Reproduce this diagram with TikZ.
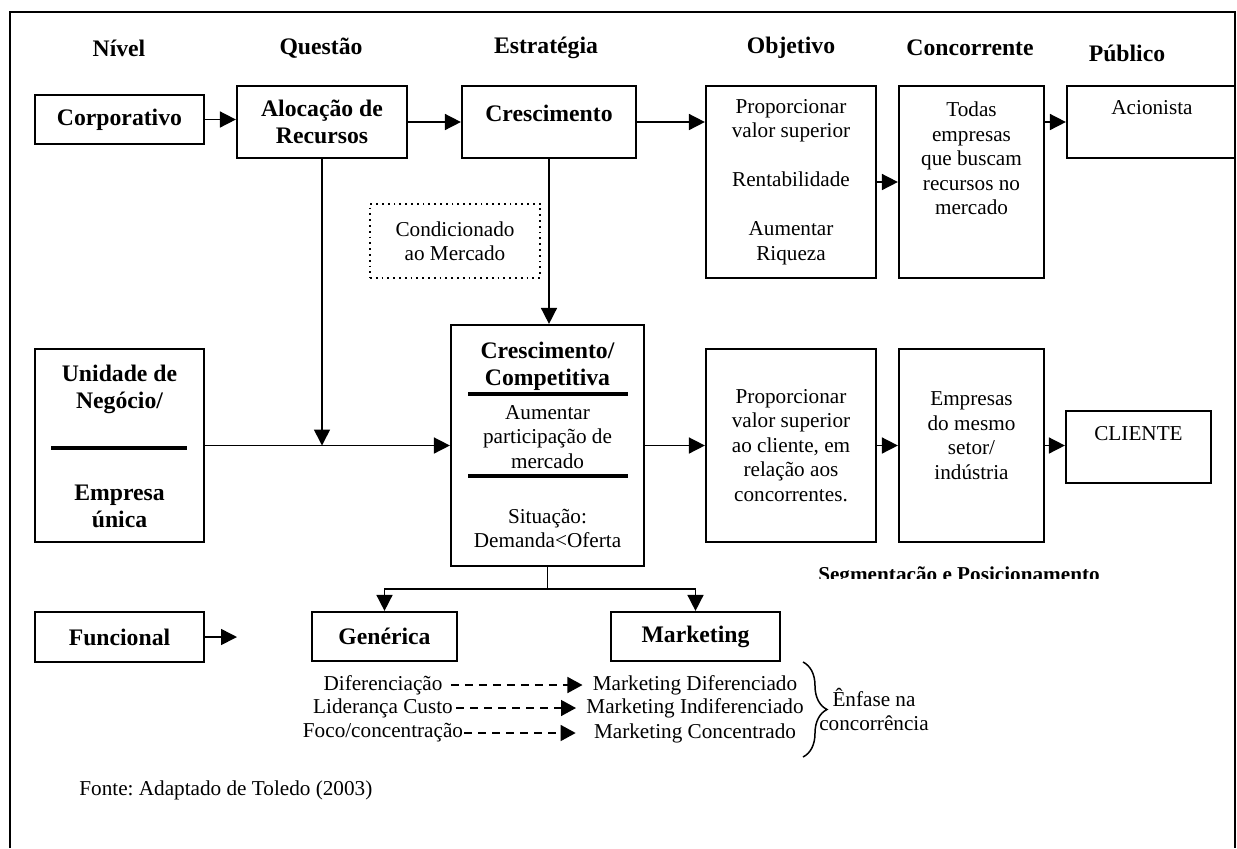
\documentclass[tikz,border=0pt]{standalone}
\usepackage{fontspec}
\setmainfont{Liberation Serif}
\usetikzlibrary{arrows.meta,decorations.pathreplacing}
\frenchspacing

\begin{document}
\begin{tikzpicture}[
    x=0.5pt, y=-0.5pt,
    header/.style={font=\fontsize{11.85}{13.3}\selectfont\bfseries, align=center, inner sep=0pt},
    levelbox/.style={rectangle, draw, line width=1.1pt, align=center, inner sep=0pt,
        font=\fontsize{11.85}{13.3}\selectfont\bfseries},
    textbox/.style={rectangle, draw, line width=1.1pt, align=center, inner sep=0pt,
        font=\fontsize{10.6}{12.25}\selectfont},
    note/.style={font=\fontsize{10.6}{12.25}\selectfont, align=center, inner sep=0pt},
    boldnote/.style={font=\fontsize{11.85}{13.3}\selectfont\bfseries, align=center, inner sep=0pt},
    link/.style={line width=0.8pt, -{Triangle[length=8pt,width=8pt]}},
    dashlink/.style={line width=0.75pt, dash pattern=on 4pt off 3pt,
        -{Triangle[length=7.5pt,width=8pt]}},
    divider/.style={line width=1.8pt}
]
\useasboundingbox (0,0) rectangle (1237,848);
\draw[line width=0.6pt] (10,848) -- (10,12) -- (1235,12) -- (1235,848);

\node (HNivel) [header] at (119,48) {Nível};
\node (HQuestao) [header] at (321,48) {Questão};
\node (HEstrategia) [header] at (546,48) {Estratégia};
\node (HObjetivo) [header] at (791,48) {Objetivo};
\node (HConcorrente) [header] at (970,48) {Concorrente};
\node (HPublico) [header] at (1127,53) {Público};

\node (Corporativo) [levelbox, minimum width=84.5pt, minimum height=24.5pt] at (119.5,119.5) {Corporativo};
\node (Alocacao) [levelbox, minimum width=85pt, minimum height=36pt] at (322,122) {Alocação de\\Recursos};
\node (Crescimento) [levelbox, minimum width=87pt, minimum height=36pt] at (549,122) {};
\node (CrescimentoTxt) [boldnote] at (549,113) {Crescimento};
\node (ObjCorp) [textbox, minimum width=85pt, minimum height=96pt] at (791,182)
    {Proporcionar\\valor superior\\[12.25pt]Rentabilidade\\[12.25pt]Aumentar\\Riqueza};
\node (ConcCorp) [textbox, minimum width=72.5pt, minimum height=96pt] at (971.5,182) {};
\node (ConcCorpTxt) [note] at (971.5,158.5) {Todas\\empresas\\que buscam\\recursos no\\mercado};
\node (Acionista) [textbox, minimum width=84pt, minimum height=36pt] at (1151,122) {};
\node (AcionistaTxt) [note] at (1152,108) {Acionista};
\node (Condicionado) [rectangle, draw, dotted, line width=0.9pt, note, minimum width=85pt, minimum height=37pt]
    at (455,241) {Condicionado\\ao Mercado};

\node (Unidade) [levelbox, minimum width=84.5pt, minimum height=96.5pt] at (119.5,445.5) {};
\node (UnidadeTxt) [boldnote] at (119.5,389.5) {Unidade de\\Negócio/};
\node (EmpresaTxt) [boldnote] at (119.5,506.5) {Empresa\\única};
\draw[divider] (51,448) -- (187,448);

\node (CC) [levelbox, minimum width=96.5pt, minimum height=120.5pt] at (547.5,445.5) {};
\node (CCTitulo) [boldnote] at (547.5,366) {Crescimento/\\Competitiva};
\node (CCMeta) [note] at (547.5,437) {Aumentar\\participação de\\mercado};
\node (CCSituacao) [note] at (547.5,528.5) {Situação:\\Demanda<Oferta};
\draw[divider] (468,394) -- (628,394);
\draw[divider] (468,476) -- (628,476);

\node (ObjUN) [textbox, minimum width=85pt, minimum height=96.5pt] at (791,445.5)
    {Proporcionar\\valor superior\\ao cliente, em\\relação aos\\concorrentes.};
\node (ConcUN) [textbox, minimum width=72.5pt, minimum height=96.5pt] at (971.5,445.5) {};
\node (ConcUNTxt) [note] at (971.5,435.5) {Empresas\\do mesmo\\setor/\\indústria};
\node (Cliente) [textbox, minimum width=72.5pt, minimum height=36pt] at (1138.5,447) {};
\node (ClienteTxt) [note] at (1138.5,434) {CLIENTE};

\begin{scope}
\clip (800,550) rectangle (1120,578);
\node (Segmentacao) [font=\fontsize{10.6}{12.25}\selectfont\bfseries, anchor=base, inner sep=0pt]
    at (959,581) {Segmentação e Posicionamento};
\end{scope}

\node (Funcional) [levelbox, minimum width=84.5pt, minimum height=25pt] at (119.5,637) {Funcional};
\node (Generica) [levelbox, minimum width=72.5pt, minimum height=24.5pt] at (384.5,636.5) {Genérica};
\node (Marketing) [levelbox, minimum width=84.5pt, minimum height=24.5pt] at (695.5,636.5) {Marketing};

\node (Dif) [note] at (383,685) {Diferenciação};
\node (Lid) [note] at (383,708) {Liderança Custo};
\node (Foco) [note] at (383,733) {Foco/concentração};
\node (MDif) [note] at (695,685) {Marketing Diferenciado};
\node (MInd) [note] at (695,708) {Marketing Indiferenciado};
\node (MConc) [note] at (695,733) {Marketing Concentrado};
\node (Enfase) [note] at (874,709.5) {Ênfase na\\concorrência};
\node (Fonte) [note, anchor=west] at (79,790) {Fonte: Adaptado de Toledo (2003)};

\coordinate (Juncao) at (Alocacao.south |- Unidade.east);
\coordinate (RamoY) at (0,589);
\coordinate (FuncSeta) at (237,639);
\coordinate (ChaveTopo) at (803,662);
\coordinate (ChaveBase) at (803,757);

\draw[link] (Corporativo.east) -- (Corporativo.east -| Alocacao.west);
\draw[link] (Alocacao) -- (Crescimento);
\draw[link] (Crescimento.east) -- (Crescimento.east -| ObjCorp.west);
\draw[link] (ObjCorp) -- (ConcCorp);
\draw[link] (ConcCorp.east |- Acionista) -- (Acionista.west);
\draw[link] (Alocacao.south) -- (Juncao);
\draw[link] (Crescimento.south) -- (Crescimento.south |- CC.north);
\draw[link] (Unidade) -- (CC);
\draw[link] (CC) -- (ObjUN);
\draw[link] (ObjUN) -- (ConcUN);
\draw[link] (ConcUN.east) -- (ConcUN.east -| Cliente.west);
\draw[line width=0.8pt] (CC.south) -- (CC.south |- RamoY);
\draw[link] (CC.south |- RamoY) -| (Generica.north);
\draw[link] (CC.south |- RamoY) -| (Marketing.north);
\draw[link] (Funcional.east) -- (Funcional.east -| FuncSeta);

\draw[dashlink, shorten <=4pt, shorten >=5pt] (Dif.east) -- (Dif.east -| MDif.west);
\draw[dashlink, shorten <=1.5pt, shorten >=5pt] (Lid.east) -- (Lid.east -| MInd.west);
\draw[dashlink, shorten <=0.5pt, shorten >=9pt] (Foco.east) -- (Foco.east -| MConc.west);

\draw[line width=0.75pt, decorate, decoration={brace, amplitude=12pt}] (ChaveTopo) -- (ChaveBase);

\end{tikzpicture}
\end{document}
